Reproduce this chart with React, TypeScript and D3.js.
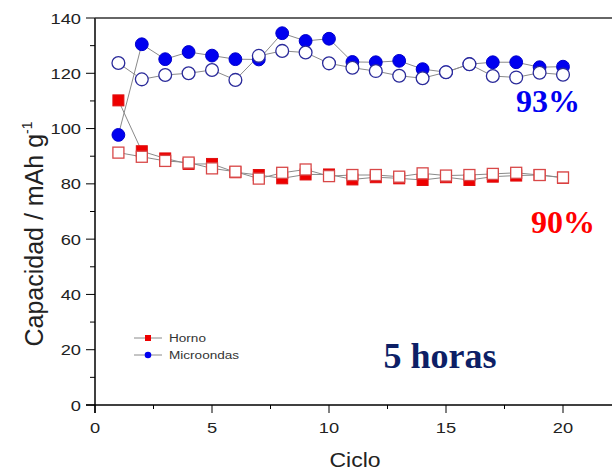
import React from "react";
import * as d3 from "d3";

const cycles = [1, 2, 3, 4, 5, 6, 7, 8, 9, 10, 11, 12, 13, 14, 15, 16, 17, 18, 19, 20];
const hornoFilled = [110.2, 91.8, 89.2, 87.2, 87.2, 84.2, 83.2, 82.0, 83.4, 83.4, 81.6, 82.4, 82.0, 81.4, 82.4, 81.4, 82.6, 83.0, 83.2, 82.2];
const hornoOpen = [91.3, 89.8, 88.3, 87.7, 85.6, 84.4, 81.9, 84.0, 85.2, 82.8, 83.2, 83.2, 82.6, 83.8, 83.0, 83.2, 83.6, 84.0, 83.2, 82.3];
const microFilled = [97.7, 130.5, 125.1, 127.7, 126.4, 125.1, 125.0, 134.5, 131.7, 132.5, 124.1, 124.0, 124.5, 121.5, 120.4, 123.3, 124.0, 124.0, 122.2, 122.4];
const microOpen = [123.7, 117.8, 119.4, 120.0, 121.2, 117.6, 126.3, 128.1, 127.5, 123.6, 122.0, 120.8, 119.1, 118.2, 120.4, 123.3, 119.0, 118.5, 120.2, 119.5];
const xTicks = [0, 5, 10, 15, 20];
const yTicks = [0, 20, 40, 60, 80, 100, 120, 140];
const seriesNames = ["Horno", "Microondas"];

export default function App() {
  const W = 612, H = 472;
  const x = d3.scaleLinear().domain([0, 20]).range([95, 563]);
  const y = d3.scaleLinear().domain([0, 140]).range([405, 18]);
  const line = d3.line<number>().x((_, i) => x(cycles[i])).y((d) => y(d));
  const xMinor = d3.range(0, 22.6, 2.5);
  const yMinor = d3.range(0, 141, 10);
  const axisFont = "Liberation Sans, Arial, sans-serif";
  const serif = "Liberation Serif, Times New Roman, serif";
  const sx = 1.18;
  const sq = 11;
  const r = 6.4;
  const gray = "#8a8a8a";
  return (
    <svg width={W} height={H} style={{ position: "absolute", left: 0, top: 0, background: "#fff" }}>
      {/* lines */}
      <path d={line(hornoFilled) || ""} fill="none" stroke={gray} strokeWidth={1} />
      <path d={line(hornoOpen) || ""} fill="none" stroke={gray} strokeWidth={1} />
      <path d={line(microFilled) || ""} fill="none" stroke={gray} strokeWidth={1} />
      <path d={line(microOpen) || ""} fill="none" stroke={gray} strokeWidth={1} />
      {/* filled markers */}
      {hornoFilled.map((v, i) => (
        <rect key={"hf" + i} x={x(cycles[i]) - sq / 2} y={y(v) - sq / 2} width={sq} height={sq} fill="#ee0000" stroke="#e01010" strokeWidth={1} />
      ))}
      {microFilled.map((v, i) => (
        <circle key={"mf" + i} cx={x(cycles[i])} cy={y(v)} r={r} fill="#0000f0" stroke="#0000cc" strokeWidth={1} />
      ))}
      {/* open markers */}
      {hornoOpen.map((v, i) => (
        <rect key={"ho" + i} x={x(cycles[i]) - sq / 2} y={y(v) - sq / 2} width={sq} height={sq} fill="#fff" stroke="#d84848" strokeWidth={1.3} />
      ))}
      {microOpen.map((v, i) => (
        <circle key={"mo" + i} cx={x(cycles[i])} cy={y(v)} r={r} fill="#fff" stroke="#2a2a9a" strokeWidth={1.3} />
      ))}
      {/* axes */}
      <line x1={95} x2={95} y1={18} y2={413} stroke="#000" strokeWidth={1.5} />
      <line x1={86} x2={612} y1={405} y2={405} stroke="#000" strokeWidth={1.5} />
      <line x1={95} x2={612} y1={18} y2={18} stroke="#333" strokeWidth={1.5} />
      {yMinor.map((t) => (
        <line key={"ym" + t} x1={95} x2={t % 20 === 0 ? 86 : 90} y1={y(t)} y2={y(t)} stroke="#000" strokeWidth={1} />
      ))}
      {xMinor.map((t) => (
        <line key={"xm" + t} x1={x(t)} x2={x(t)} y1={405} y2={t % 5 === 0 ? 413 : 409} stroke="#000" strokeWidth={1} />
      ))}
      {yTicks.map((t) => (
        <text key={"yl" + t} transform={`translate(81,${y(t)}) scale(${sx},1)`} dy="0.36em" textAnchor="end" fontFamily={axisFont} fontSize={15.5} fill="#222">{t}</text>
      ))}
      {xTicks.map((t) => (
        <text key={"xl" + t} transform={`translate(${x(t)},433) scale(${sx},1)`} textAnchor="middle" fontFamily={axisFont} fontSize={15.5} fill="#222">{t}</text>
      ))}
      <text transform={`translate(355,467) scale(${sx},1)`} textAnchor="middle" fontFamily={axisFont} fontSize={19.5} fill="#222">Ciclo</text>
      <text transform="translate(43,234) rotate(-90)" textAnchor="middle" fontFamily={axisFont} fontSize={25} fill="#222">
        Capacidad / mAh g<tspan dy={-11} fontSize={14}>-1</tspan>
      </text>
      {/* legend */}
      <line x1={134} x2={162} y1={338} y2={338} stroke={gray} strokeWidth={1} />
      <rect x={145} y={335} width={6} height={6} fill="#ee0000" />
      <text transform={`translate(169,338) scale(${sx},1)`} dy="0.35em" fontFamily={axisFont} fontSize={11.5} fill="#333">{seriesNames[0]}</text>
      <line x1={134} x2={162} y1={355} y2={355} stroke={gray} strokeWidth={1} />
      <circle cx={148} cy={355} r={3.3} fill="#0000f0" />
      <text transform={`translate(169,355) scale(${sx},1)`} dy="0.35em" fontFamily={axisFont} fontSize={11.5} fill="#333">{seriesNames[1]}</text>
      {/* annotations */}
      <text x={440} y={368} textAnchor="middle" fontFamily={serif} fontWeight="bold" fontSize={36} fill="#0d1f66">5 horas</text>
      <text x={548} y={112} textAnchor="middle" fontFamily={serif} fontWeight="bold" fontSize={32} fill="#0000f0">93%</text>
      <text x={563} y={233} textAnchor="middle" fontFamily={serif} fontWeight="bold" fontSize={32} fill="#ff0000">90%</text>
    </svg>
  );
}
